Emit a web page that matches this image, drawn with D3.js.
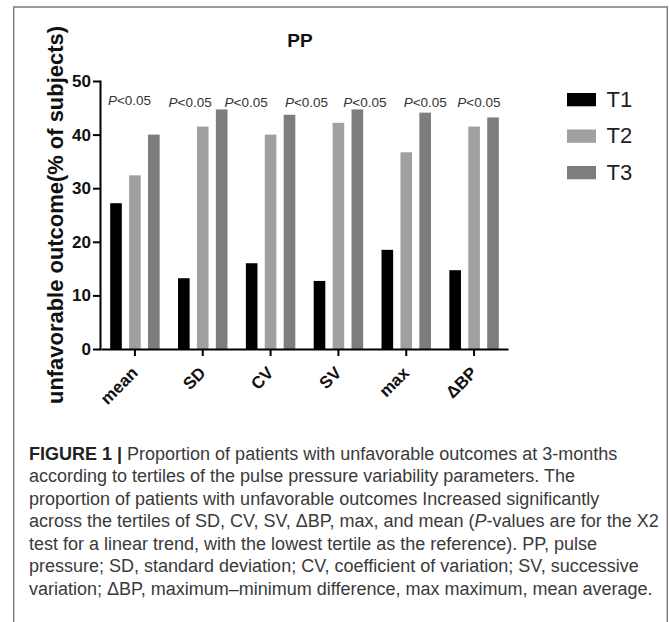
<!DOCTYPE html>
<html><head><meta charset="utf-8">
<script src="https://cdn.jsdelivr.net/npm/d3@7"></script>
<style>body{margin:0;background:#fff} svg{display:block}</style>
</head><body><svg id="c" width="669" height="622"></svg>
<script>
const categories = ["mean", "SD", "CV", "SV", "max", "\u0394BP"];
const series = ["T1", "T2", "T3"];
const t1Values = [27.2, 13.2, 16.0, 12.7, 18.5, 14.7];
const t2Values = [32.4, 41.5, 40.0, 42.2, 36.7, 41.5];
const t3Values = [40.0, 44.7, 43.7, 44.7, 44.1, 43.2];
const seriesColors = ["#000000", "#a0a0a1", "#7d7d7d"];
const yTicks = [0, 10, 20, 30, 40, 50];
const pLabels = ["P<0.05", "P<0.05", "P<0.05", "P<0.05", "P<0.05", "P<0.05", "P<0.05"];
// annotation positions in category-index units and in data units
const pLabelPos = [-0.08, 0.815, 1.64, 2.53, 3.39, 4.28, 5.07];
const pLabelLevel = [45.6, 45.1, 45.1, 45.1, 45.1, 45.1, 45.1];
const chartTitle = "PP";
const yTitle = "unfavorable outcome(% of subjects)";
const captionLines = [
  [["FIGURE 1 | ", "b"], ["Proportion of patients with unfavorable outcomes at 3-months", ""]],
  [["according to tertiles of the pulse pressure variability parameters. The", ""]],
  [["proportion of patients with unfavorable outcomes Increased significantly", ""]],
  [["across the tertiles of SD, CV, SV, \u0394BP, max, and mean (", ""], ["P", "i"], ["-values are for the X2", ""]],
  [["test for a linear trend, with the lowest tertile as the reference). PP, pulse", ""]],
  [["pressure; SD, standard deviation; CV, coefficient of variation; SV, successive", ""]],
  [["variation; \u0394BP, maximum\u2013minimum difference, max maximum, mean average.", ""]]
];

const svg = d3.select("#c");
const FONT = "'Liberation Sans', Arial, Helvetica, sans-serif";

// frame
svg.append("path")
  .attr("d", "M13.7,630 V7 H667.3 V630")
  .attr("fill", "none").attr("stroke", "#7a7a7a").attr("stroke-width", 1.4);

const x = d3.scaleBand().domain(categories).range([101, 508]).paddingInner(0.271).paddingOuter(0.1355);
const xs = d3.scaleBand().domain(series).range([0, x.bandwidth()]).paddingInner(0.386).paddingOuter(0);
const y = d3.scaleLinear().domain([0, 50]).range([349, 81]);
const idx = d3.scaleLinear().domain([0, 1]).range([x(categories[0]) + x.bandwidth() / 2, x(categories[1]) + x.bandwidth() / 2]);

const values = [t1Values, t2Values, t3Values];
const rows = [];
categories.forEach((c, i) => series.forEach((s, j) => rows.push({c, s, j, v: values[j][i]})));

svg.append("g").selectAll("rect").data(rows).join("rect")
  .attr("x", d => x(d.c) + xs(d.s))
  .attr("width", xs.bandwidth())
  .attr("y", d => y(d.v))
  .attr("height", d => y(0) - y(d.v))
  .attr("fill", d => seriesColors[d.j]);

// y axis
const ya = svg.append("g").attr("transform", "translate(100,0)")
  .call(d3.axisLeft(y).tickValues(yTicks).tickSize(7).tickSizeOuter(0).tickPadding(2));
ya.select(".domain").attr("stroke", "#000").attr("stroke-width", 2).attr("stroke-linecap", "square");
ya.selectAll(".tick line").attr("stroke", "#000").attr("stroke-width", 2);
ya.selectAll(".tick text").attr("font-family", FONT).attr("font-size", 17).attr("font-weight", "bold").attr("fill", "#111");

// x axis
const xa = svg.append("g").attr("transform", "translate(0,349)")
  .call(d3.axisBottom(x).tickSize(7).tickSizeOuter(0));
xa.select(".domain").attr("stroke", "#000").attr("stroke-width", 2);
xa.selectAll(".tick line").attr("stroke", "#000").attr("stroke-width", 2);
xa.selectAll(".tick text")
  .attr("x", 0).attr("y", 0).attr("dy", 0)
  .attr("transform", "translate(4,25) rotate(-45)")
  .attr("text-anchor", "end")
  .attr("font-family", FONT).attr("font-size", 17).attr("font-weight", "bold").attr("fill", "#111");

// title
svg.append("text").attr("x", 300).attr("y", 46.5).attr("text-anchor", "middle")
  .attr("font-family", FONT).attr("font-size", 19).attr("font-weight", "bold").attr("fill", "#111")
  .text(chartTitle);

// y title
svg.append("text").attr("transform", "translate(63,215) rotate(-90)").attr("text-anchor", "middle")
  .attr("font-family", FONT).attr("font-size", 22).attr("font-weight", "bold").attr("fill", "#111")
  .attr("textLength", 378).attr("lengthAdjust", "spacingAndGlyphs")
  .text(yTitle);

// p labels
const pl = svg.append("g").selectAll("text").data(pLabels).join("text")
  .attr("x", (d, i) => idx(pLabelPos[i]))
  .attr("y", (d, i) => y(pLabelLevel[i]))
  .attr("text-anchor", "middle")
  .attr("font-family", FONT).attr("font-size", 13.5).attr("fill", "#333");
pl.append("tspan").attr("font-style", "italic").text(d => d.slice(0, 1));
pl.append("tspan").text(d => d.slice(1));

// legend
const lg = svg.append("g").selectAll("g").data(series).join("g")
  .attr("transform", (d, i) => `translate(567,${93 + i * 36.5})`);
lg.append("rect").attr("width", 29).attr("height", 13.3).attr("fill", (d, i) => seriesColors[i]);
lg.append("text").attr("x", 39.5).attr("y", 13.5)
  .attr("font-family", FONT).attr("font-size", 22).attr("fill", "#222").text(d => d);

// caption
const cap = svg.append("g").selectAll("text").data(captionLines).join("text")
  .attr("x", 29).attr("y", (d, i) => 459.5 + i * 22.5)
  .attr("font-family", FONT).attr("font-size", 18).attr("fill", "#3a3a3a")
  .style("white-space", "pre");
cap.selectAll("tspan").data(d => d).join("tspan")
  .attr("font-weight", d => d[1] === "b" ? "bold" : null)
  .attr("fill", d => d[1] === "b" ? "#222" : null)
  .attr("font-style", d => d[1] === "i" ? "italic" : null)
  .text(d => d[0]);
</script></body></html>
